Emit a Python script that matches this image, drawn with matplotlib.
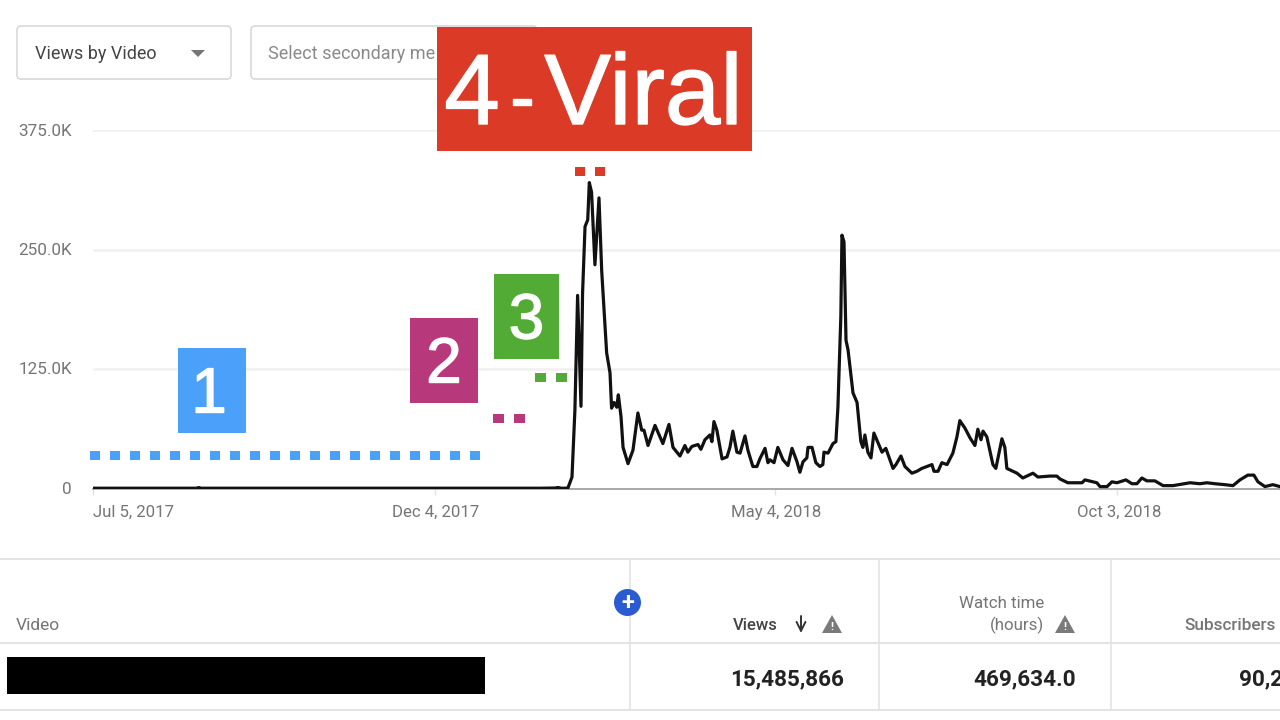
import matplotlib
matplotlib.use("Agg")
import matplotlib.pyplot as plt
import matplotlib.patheffects as pe
from matplotlib.patches import FancyBboxPatch, Rectangle, Circle, Polygon
import pandas as pd

plt.rcParams['font.family'] = ['Roboto', 'DejaVu Sans']

START = pd.Timestamp('2017-07-05')
tick_dates = ['2017-07-05', '2017-12-04', '2018-05-04', '2018-10-03']
tick_labels = ['Jul 5, 2017', 'Dec 4, 2017', 'May 4, 2018', 'Oct 3, 2018']
y_ticks = [0, 125, 250, 375]
y_labels = ['0', '125.0K', '250.0K', '375.0K']

days = [0, 46, 47, 48, 198.7, 205.3, 206.7, 208.4, 211.1, 212.9, 214.2, 215.4, 216.1, 216.9, 217.6, 218.7, 219.9, 220.6,
        221.6, 223.1, 224.9, 226.1, 228.3, 229.8, 230.5, 231.6, 232.8, 233.5, 234.7, 235.6, 237.8, 240, 242.2,
        243.9, 244.9, 246.7, 249.8, 253.3, 256, 257.8, 260.9, 263.1, 264.4, 266.2, 268.9, 270.2, 272, 274.2,
        275.1, 276, 277.3, 279.6, 281.8, 283.1, 284.4, 286.2, 287.6, 289.8, 291.1, 293.3, 295.1, 296.4, 298.7,
        300, 300.9, 302.7, 304.4, 306.7, 308.9, 310.7, 312.9, 314.2, 315.6, 317.3, 317.8, 319.6, 321.3, 323.1,
        324.4, 324.9, 326.7, 328.9, 330.2, 331.1, 332.4, 332.9, 333.8, 334.7, 335.6, 337.8, 339.6, 341.3, 342.2,
        343.1, 344.4, 345.8, 347.1, 350.7, 352.4, 355.6, 356.9, 359.1, 360.9, 364, 366.2, 368.4, 372.9, 373.8,
        375.6, 377.3, 379.6, 382.2, 384, 385.3, 387.6, 389.8, 392, 393.3, 394.7, 395.6, 397.3, 400, 401.3, 404,
        405.3, 406.2, 410.7, 413.3, 417.8, 420, 425.3, 428.4, 429.8, 433.3, 439.6, 440.9, 446.2, 447.6, 450.7,
        452.9, 455.1, 459.1, 461.8, 464, 466.2, 468.4, 472, 475.6, 480, 487.6, 492, 495.1, 498.7, 503.1, 506.7,
        509.8, 513.3, 516, 517.8, 520.9, 524.4, 527.6]
views_k = [0.3, 0.3, 1, 0.3, 0.3, 0.5, 1, 0.2, 0.5, 12, 82, 202, 148, 86, 204, 274, 281, 320,
           310, 234, 304, 228, 142, 121, 84, 90, 85, 98, 75, 43, 26, 40, 79,
           61, 61, 45, 66, 47, 67, 43, 34, 45, 38, 44, 46, 41, 51, 56,
           49, 70, 61, 31, 33, 43, 60, 38, 37, 55, 40, 23, 23, 31, 42,
           27, 30, 27, 43, 30, 24, 42, 28, 17, 28, 32, 43, 43, 27, 23,
           25, 38, 37, 47, 49, 85, 180, 265, 258, 155, 145, 100, 90, 49, 43,
           56, 38, 32, 58, 38, 42, 21, 25, 34, 23, 16, 18, 21, 25, 18,
           18, 27, 25, 37, 54, 71, 63, 53, 45, 62, 51, 60, 54, 25, 21, 52,
           43, 21, 16, 11, 16, 12, 13, 13, 10, 6, 6, 9, 6, 2, 2,
           7, 6, 9, 5, 5, 11, 8, 8, 3, 3, 6, 5, 6, 5, 4, 3,
           9, 14, 14, 7, 2, 4, 2]

W, H = 1280, 720
fig = plt.figure(figsize=(W / 100, H / 100), dpi=100, facecolor='white')

# Chart axes: x pixels 93-1280, y pixels 130-488.5
ax = fig.add_axes([93 / W, 1 - 488.5 / H, (W - 93) / W, (488.5 - 130) / H])
dates = [START + pd.Timedelta(days=d) for d in days]
ax.plot(dates, views_k, color='#111111', lw=2.3, solid_joinstyle='round', zorder=3)
ax.set_xlim(START, START + pd.Timedelta(days=527.6))
ax.set_ylim(0, 375)
for s in ['top', 'right', 'left']:
    ax.spines[s].set_visible(False)
ax.spines['bottom'].set_color('#9a9a9a')
ax.spines['bottom'].set_linewidth(1.2)
ax.set_yticks(y_ticks[1:])
ax.set_yticklabels([])
ax.yaxis.grid(True, color='#f0f0f0', lw=1.8)
ax.set_axisbelow(True)
ax.tick_params(axis='y', length=0)
ax.set_xticks(pd.to_datetime(tick_dates))
ax.set_xticklabels([])
ax.tick_params(axis='x', length=4, color='#e2e2e2', width=1)
ax.patch.set_alpha(0)

# Overlay in pixel coordinates for the interface and callouts
ui = fig.add_axes([0, 0, 1, 1], zorder=5)
ui.set_xlim(0, W)
ui.set_ylim(H, 0)
ui.axis('off')
ui.patch.set_alpha(0)

GRAY = '#757575'
for lab, v in zip(y_labels, y_ticks):
    ui.text(72, 489.5 - v * 0.956, lab, ha='right', va='center', fontsize=12.3, color=GRAY)
for lab, x, ha in zip(tick_labels, [93, 436, 776, 1119], ['left', 'center', 'center', 'center']):
    ui.text(x, 512, lab, ha=ha, va='center', fontsize=12.1, color=GRAY)

# Dropdowns
for x0, x1 in [(17, 231), (251, 537)]:
    ui.add_patch(FancyBboxPatch((x0, 26), x1 - x0, 53, boxstyle='round,pad=0,rounding_size=4',
                                fc='white', ec='#d6d6d6', lw=1.1))
ui.text(35, 54, 'Views by Video', va='center', fontsize=13, color='#444444')
ui.add_patch(Polygon([(191, 50), (205, 50), (198, 57)], fc=GRAY, ec='none'))
ui.text(268, 54, 'Select secondary me', va='center', fontsize=13, color='#8a8a8a')

# Callouts
def dots(x0, x1, y, color, step=20, size=10, h=9):
    x = x0
    while x < x1:
        ui.add_patch(Rectangle((x, y - h / 2), size, h, fc=color, ec='none', zorder=6))
        x += step

BLUE, MAG, GREEN, RED = '#4ba0f9', '#b8397b', '#52ab35', '#db3a26'
dots(90, 481, 455, BLUE)
dots(493, 525, 418, MAG, step=21, size=11)
dots(535, 567, 377, GREEN, step=21, size=11)
dots(575, 606, 171, RED, step=20, size=10)

def heavy(w):
    return [pe.withStroke(linewidth=w, foreground='white')]

boxes = [(178, 348, 68, 85, BLUE, '1', 209), (410, 318, 68, 85, MAG, '2', 444), (494, 274, 65, 85, GREEN, '3', 526.5)]
for x, y, w, h, c, t, tx in boxes:
    ui.add_patch(Rectangle((x, y), w, h, fc=c, ec='none', zorder=7))
    ui.text(tx, y + h / 2 + 5, t, color='white', ha='center', va='center', fontsize=46,
            family='Liberation Sans', zorder=8, path_effects=heavy(1.0))
ui.add_patch(Rectangle((437, 27), 315, 124, fc=RED, ec='none', zorder=7))
for x, y, t, fs in [(472, 98, '4', 72), (522, 103, '-', 52), (643.5, 98, 'Viral', 72)]:
    ui.text(x, y, t, color='white', ha='center', va='center', fontsize=fs,
            family='Liberation Sans', zorder=8, path_effects=heavy(1.0))

# Table
LINE = '#e3e3e3'
for y in [559, 643, 710]:
    ui.plot([0, W], [y, y], color=LINE, lw=1.4)
for x in [630, 879, 1111]:
    ui.plot([x, x], [559, 710], color=LINE, lw=1.2)
ui.text(16, 625, 'Video', va='center', fontsize=12.5, color=GRAY)
ui.text(778, 625, 'Views', ha='right', va='center', fontsize=12, color='#444444', fontweight='medium')
ui.text(1044, 604, 'Watch time', ha='right', va='center', fontsize=12.2, color=GRAY)
ui.text(1044, 625, '(hours)', ha='right', va='center', fontsize=12.2, color=GRAY)
ui.text(1276, 625, 'Subscribers', ha='right', va='center', fontsize=12.4, color=GRAY, fontweight='medium')
ui.annotate('', xy=(801, 633), xytext=(801, 616),
            arrowprops=dict(arrowstyle='->', color='#333333', lw=1.4, mutation_scale=16, shrinkA=0, shrinkB=0))
for cx in [832, 1065]:
    ui.add_patch(Polygon([(cx - 10, 633), (cx + 10, 633), (cx, 615)], fc='#7a7a7a', ec='none'))
    ui.text(cx, 627, '!', color='white', ha='center', va='center', fontsize=8, fontweight='bold')
ui.add_patch(Circle((627.5, 602.5), 13.5, fc='#2a5bd0', ec='none', zorder=6))
ui.text(627.5, 603.5, '+', color='white', ha='center', va='center', fontsize=17, fontweight='bold', zorder=7)
ui.add_patch(Rectangle((7, 657), 478, 37, fc='black', ec='none'))
for x, t, ha in [(844, '15,485,866', 'right'), (1076, '469,634.0', 'right'), (1239, '90,2', 'left')]:
    ui.text(x, 679.5, t, ha=ha, va='center', fontsize=16.2, fontweight='bold', color='#222222')

fig.savefig('out.png', dpi=100)
